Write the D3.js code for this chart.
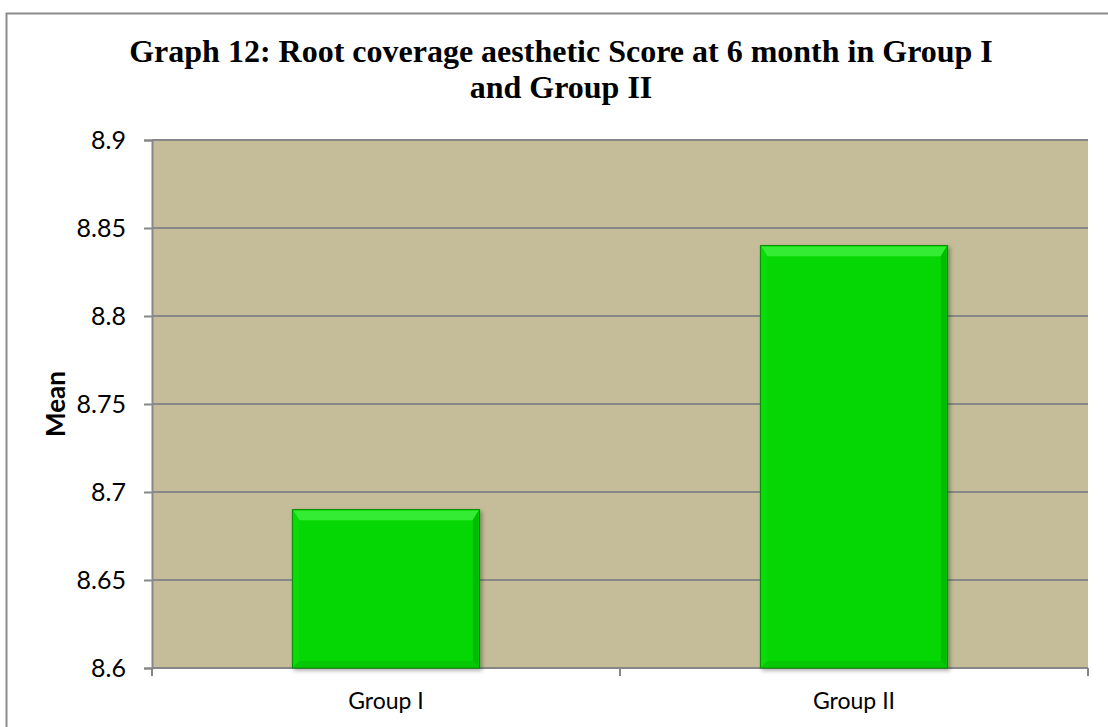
<!DOCTYPE html>
<html>
<head>
<meta charset="utf-8">
<script src="https://cdn.jsdelivr.net/npm/d3@7"></script>
<style>
  html, body { margin: 0; padding: 0; background: #ffffff; }
  svg { display: block; }
</style>
</head>
<body>
<script>
// Mean root coverage aesthetic score at 6 months
const categories = ["Group I", "Group II"];
const meanValues = [8.69, 8.84];
const yTicks = [8.6, 8.65, 8.7, 8.75, 8.8, 8.85, 8.9];
const titleLines = ["Graph 12: Root coverage aesthetic Score at 6 month in Group I", "and Group II"];
const yAxisTitle = "Mean";

const W = 1108, H = 727;
const plot = { left: 152, top: 140, right: 1088, bottom: 668 };

const svg = d3.select("body").append("svg").attr("width", W).attr("height", H);

const defs = svg.append("defs");
const shadow = defs.append("filter").attr("id", "barShadow")
  .attr("x", "-10%").attr("y", "-10%").attr("width", "130%").attr("height", "130%");
shadow.append("feGaussianBlur").attr("in", "SourceAlpha").attr("stdDeviation", 2);
shadow.append("feOffset").attr("dx", 2).attr("dy", 2).attr("result", "off");
shadow.append("feComponentTransfer").append("feFuncA").attr("type", "linear").attr("slope", 0.35);
const merge = shadow.append("feMerge");
merge.append("feMergeNode");
merge.append("feMergeNode").attr("in", "SourceGraphic");

// outer chart frame
svg.append("rect")
  .attr("x", 6.5).attr("y", 13.5)
  .attr("width", W + 20).attr("height", H + 20)
  .attr("fill", "#ffffff").attr("stroke", "#8c8c8c").attr("stroke-width", 2);

const x = d3.scaleBand().domain(categories)
  .range([plot.left, plot.right]).paddingInner(0.6).paddingOuter(0.3);
const y = d3.scaleLinear().domain([8.6, 8.9]).range([plot.bottom, plot.top]);

// plot background
svg.append("rect")
  .attr("x", plot.left).attr("y", plot.top)
  .attr("width", plot.right - plot.left).attr("height", plot.bottom - plot.top)
  .attr("fill", "#c5bd99");

// gridlines
svg.append("g").selectAll("line").data(yTicks).join("line")
  .attr("x1", plot.left).attr("x2", plot.right)
  .attr("y1", d => y(d)).attr("y2", d => y(d))
  .attr("stroke", "#878787").attr("stroke-width", 2);

// y axis
const yAxis = svg.append("g").attr("transform", `translate(${plot.left},0)`)
  .call(d3.axisLeft(y).tickValues(yTicks).tickSize(8).tickPadding(18)
    .tickFormat(d => String(+d.toFixed(2))));
yAxis.select(".domain").attr("stroke", "#878787").attr("stroke-width", 2);
yAxis.selectAll(".tick line").attr("stroke", "#878787").attr("stroke-width", 2);
yAxis.selectAll(".tick text")
  .attr("font-family", "Lato, 'Open Sans', sans-serif")
  .attr("font-size", 25).attr("fill", "#000");

// x axis: ticks on band boundaries
const xAxisG = svg.append("g").attr("transform", `translate(0,${plot.bottom})`);
xAxisG.append("line").attr("x1", plot.left).attr("x2", plot.right)
  .attr("stroke", "#878787").attr("stroke-width", 2);
const tickXs = [plot.left, (x(categories[0]) + x.bandwidth() + x(categories[1])) / 2, plot.right];
xAxisG.selectAll("line.tk").data(tickXs).join("line").attr("class", "tk")
  .attr("x1", d => d).attr("x2", d => d).attr("y1", 0).attr("y2", 8)
  .attr("stroke", "#878787").attr("stroke-width", 2);
xAxisG.selectAll("text").data(categories).join("text")
  .attr("x", d => x(d) + x.bandwidth() / 2).attr("y", 41)
  .attr("text-anchor", "middle")
  .attr("font-family", "Lato, 'Open Sans', sans-serif")
  .attr("font-size", 23).attr("fill", "#000")
  .text(d => d);

// bars with bevelled edges
const bars = svg.append("g").selectAll("g").data(categories.map((c, i) => ({ c, v: meanValues[i] })))
  .join("g");
bars.append("rect")
  .attr("x", d => x(d.c)).attr("y", d => y(d.v))
  .attr("width", x.bandwidth()).attr("height", d => y(8.6) - y(d.v))
  .attr("fill", "#05d705").attr("stroke", "#028c02").attr("stroke-width", 1)
  .attr("filter", "url(#barShadow)");
const bevTop = 11, bevSide = 7;
// top bevel (light)
bars.append("polygon").attr("points", d => {
  const x0 = x(d.c), x1 = x0 + x.bandwidth(), y0 = y(d.v);
  return [[x0 + 1, y0 + 1], [x1 - 1, y0 + 1], [x1 - bevSide, y0 + bevTop], [x0 + bevSide, y0 + bevTop]].join(" ");
}).attr("fill", "#33ec33");
// left bevel
bars.append("polygon").attr("points", d => {
  const x0 = x(d.c), y0 = y(d.v), y1 = y(8.6);
  return [[x0 + 1, y0 + 1], [x0 + bevSide, y0 + bevTop], [x0 + bevSide, y1 - bevSide], [x0 + 1, y1 - 1]].join(" ");
}).attr("fill", "#0bdb0b");
// right bevel (dark)
bars.append("polygon").attr("points", d => {
  const x1 = x(d.c) + x.bandwidth(), y0 = y(d.v), y1 = y(8.6);
  return [[x1 - 1, y0 + 1], [x1 - 1, y1 - 1], [x1 - bevSide, y1 - bevSide], [x1 - bevSide, y0 + bevTop]].join(" ");
}).attr("fill", "#03bb03");
// bottom bevel
bars.append("polygon").attr("points", d => {
  const x0 = x(d.c), x1 = x0 + x.bandwidth(), y1 = y(8.6);
  return [[x0 + 1, y1 - 1], [x0 + bevSide, y1 - bevSide], [x1 - bevSide, y1 - bevSide], [x1 - 1, y1 - 1]].join(" ");
}).attr("fill", "#04c804");
// centre face
bars.append("rect")
  .attr("x", d => x(d.c) + bevSide).attr("y", d => y(d.v) + bevTop)
  .attr("width", x.bandwidth() - 2 * bevSide).attr("height", d => y(8.6) - y(d.v) - bevTop - bevSide)
  .attr("fill", "#05d705");

// title
const title = svg.append("text")
  .attr("text-anchor", "middle")
  .attr("font-family", "'Liberation Serif', 'Times New Roman', serif")
  .attr("font-weight", "bold").attr("font-size", 32).attr("fill", "#000");
titleLines.forEach((t, i) => {
  title.append("tspan").attr("x", 561).attr("y", 62 + i * 36).text(t);
});

// y axis title
svg.append("text")
  .attr("transform", `translate(65,${(plot.top + plot.bottom) / 2}) rotate(-90)`)
  .attr("text-anchor", "middle")
  .attr("font-family", "Lato, 'Open Sans', sans-serif")
  .attr("font-weight", "bold").attr("font-size", 26).attr("fill", "#000")
  .text(yAxisTitle);
</script>
</body>
</html>
